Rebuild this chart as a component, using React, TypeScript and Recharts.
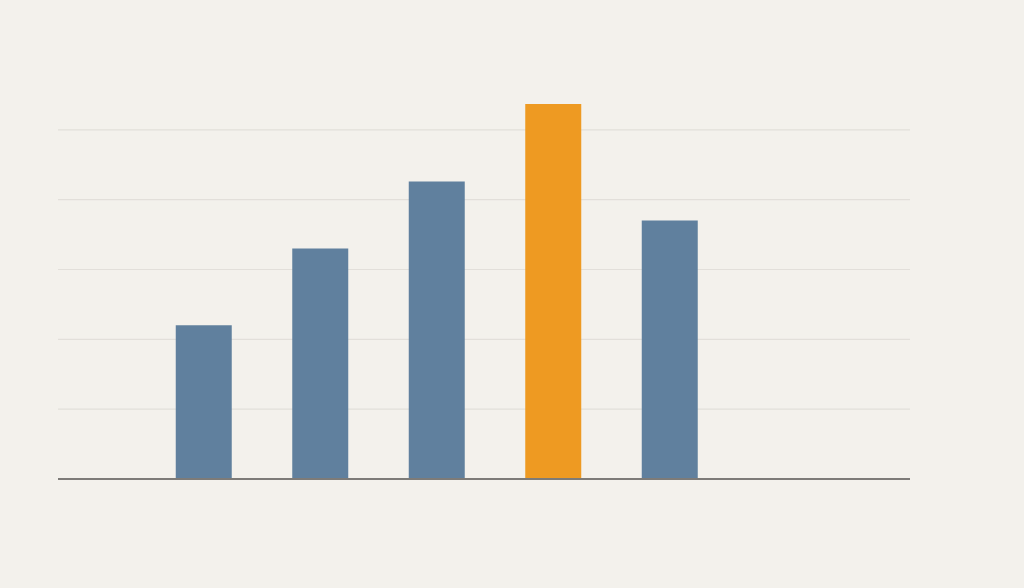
import React from "react";
import { BarChart, Bar, XAxis, YAxis, CartesianGrid, Cell, ReferenceLine } from "recharts";

const categories = ["A", "B", "C", "D", "E"];
const values = [2.2, 3.3, 4.26, 5.37, 3.7];
const highlightIndex = 3;
const gridValues = [1, 2, 3, 4, 5];

const data = categories.map((c, i) => ({ name: c, value: values[i] }));

export default function App() {
  return (
    <div
      style={{
        position: "fixed",
        left: 0,
        top: 0,
        width: 1024,
        height: 588,
        background: "#f3f1ec",
      }}
    >
      <BarChart
        width={1024}
        height={588}
        data={data}
        margin={{ top: 60, right: 114, bottom: 109, left: 58 }}
      >
        <CartesianGrid
          vertical={false}
          stroke="#e2dfda"
          strokeWidth={1.2}
          horizontalValues={gridValues}
        />
        <YAxis hide domain={[0, 6]} ticks={gridValues} />
        <XAxis
          dataKey="name"
          height={0}
          tick={false}
          tickLine={false}
          axisLine={false}
          padding={{ left: 87.75, right: 181.75 }}
        />
        <Bar dataKey="value" barSize={56} isAnimationActive={false}>
          {data.map((d, i) => (
            <Cell key={d.name} fill={i === highlightIndex ? "#ee9a22" : "#60809e"} />
          ))}
        </Bar>
        <ReferenceLine y={0} stroke="#7d7b78" strokeWidth={2} />
      </BarChart>
    </div>
  );
}
